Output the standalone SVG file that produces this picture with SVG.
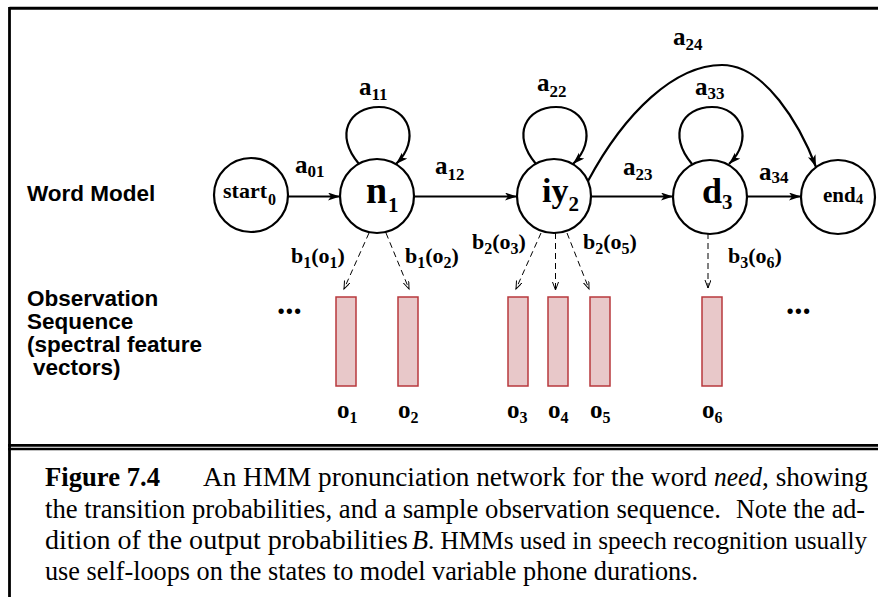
<svg xmlns="http://www.w3.org/2000/svg" width="878" height="597" viewBox="0 0 878 597">
<style>
.st{fill:#fff;stroke:#000;stroke-width:2.2}
.ed{fill:none;stroke:#000;stroke-width:2.2}
.em{fill:none;stroke:#000;stroke-width:1;stroke-dasharray:6,4}
.ob{fill:#e8c8c9;stroke:#b8383c;stroke-width:1.5}
.tb{font-family:"Liberation Serif","Times New Roman",serif;font-weight:bold;fill:#000}
.hs{font-family:"Liberation Sans",Arial,sans-serif;font-weight:bold;font-size:22.5px;fill:#000}
.cap{font-family:"Liberation Serif","Times New Roman",serif;font-size:26.3px;fill:#000}
.it{font-style:italic}
.al{font-size:25px}
.as{font-size:17px}
.bl{font-size:22px}
.bs{font-size:16px}
</style>
<defs>
<marker id="ah" markerUnits="userSpaceOnUse" markerWidth="14" markerHeight="10" refX="12" refY="4" orient="auto">
<path d="M0,0 L12,4 L0,8 L3,4 z" fill="#000"/>
</marker>
<marker id="av" markerUnits="userSpaceOnUse" markerWidth="10" markerHeight="8" refX="8" refY="3" orient="auto">
<path d="M0,0 L8,3 L0,6" fill="none" stroke="#000" stroke-width="1"/>
</marker>
</defs>

<g id="frame">
<line x1="9.5" y1="8.2" x2="878" y2="8.2" stroke="#000" stroke-width="3"/>
<line x1="9.5" y1="7" x2="9.5" y2="597" stroke="#000" stroke-width="2.8"/>
<line x1="8" y1="445.3" x2="878" y2="445.3" stroke="#000" stroke-width="2.7"/>
<line x1="8" y1="449" x2="878" y2="449" stroke="#000" stroke-width="2.3"/>
</g>

<g id="row-labels">
<text class="hs" x="27" y="201">Word Model</text>
<text class="hs" x="27" y="306">Observation</text>
<text class="hs" x="27" y="329">Sequence</text>
<text class="hs" x="27" y="352">(spectral feature</text>
<text class="hs" x="33" y="375">vectors)</text>
</g>

<g id="connectors">
<path class="ed" d="M288,196.5 L340,196.5" marker-end="url(#ah)"/>
<path class="ed" d="M414,196.5 L517,196.5" marker-end="url(#ah)"/>
<path class="ed" d="M591,196.5 L673,196.5" marker-end="url(#ah)"/>
<path class="ed" d="M747,196.5 L801,196.5" marker-end="url(#ah)"/>
<path class="ed" d="M359,164 C334,135 349,107 379,107 C409,107 421,140 396,164" marker-end="url(#ah)"/>
<path class="ed" d="M536,164 C511,135 526,107 556,107 C586,107 598,140 573,164" marker-end="url(#ah)"/>
<path class="ed" d="M692,164 C667,135 682,107 712,107 C742,107 754,140 729,164" marker-end="url(#ah)"/>
<path class="ed" d="M588,181 C625,112 675,65 722,65 C765,65 800,125 816,167" marker-end="url(#ah)"/>
<path class="em" d="M369,233 L344,289" marker-end="url(#av)"/>
<path class="em" d="M386,233 L409,289" marker-end="url(#av)"/>
<path class="em" d="M541,233 L516,289" marker-end="url(#av)"/>
<path class="em" d="M555.5,233 L555.5,290" marker-end="url(#av)"/>
<path class="em" d="M567,233 L589,289" marker-end="url(#av)"/>
<path class="em" d="M708,233 L708,288" marker-end="url(#av)"/>
</g>

<g id="start0">
<circle class="st" cx="251" cy="195" r="37"/>
<text class="tb" x="223" y="198" font-size="22">start<tspan x="268" y="205" font-size="16">0</tspan></text>
</g>
<g id="n1">
<circle class="st" cx="377" cy="196" r="37"/>
<text class="tb" x="366" y="203" font-size="38">n<tspan x="388" y="212" font-size="21">1</tspan></text>
</g>
<g id="iy2">
<circle class="st" cx="554" cy="196" r="37"/>
<text class="tb" x="542" y="202" font-size="34">iy<tspan dy="9" font-size="21">2</tspan></text>
</g>
<g id="d3">
<circle class="st" cx="710" cy="197" r="37"/>
<text class="tb" x="702" y="203" font-size="36">d<tspan dy="6" font-size="21">3</tspan></text>
</g>
<g id="end4">
<circle class="st" cx="838" cy="197" r="37"/>
<text class="tb" x="823" y="202" font-size="21">end<tspan dy="2" font-size="15">4</tspan></text>
</g>

<g id="transition-labels" class="tb">
<text class="al" x="295" y="173">a<tspan class="as" dy="4">01</tspan></text>
<text class="al" x="435" y="174">a<tspan class="as" dy="6">12</tspan></text>
<text class="al" x="359" y="95">a<tspan class="as" dy="5">11</tspan></text>
<text class="al" x="537" y="91">a<tspan class="as" dy="6">22</tspan></text>
<text class="al" x="623" y="175">a<tspan class="as" dy="5">23</tspan></text>
<text class="al" x="759" y="180">a<tspan class="as" dy="3">34</tspan></text>
<text class="al" x="695" y="95">a<tspan class="as" dy="4">33</tspan></text>
<text class="al" x="673" y="45">a<tspan class="as" dy="5">24</tspan></text>
</g>

<g id="emission-labels" class="tb">
<text class="bl" x="291" y="263">b<tspan class="bs" dy="5">1</tspan><tspan dy="-5">(o</tspan><tspan class="bs" dy="5">1</tspan><tspan dy="-5">)</tspan></text>
<text class="bl" x="405" y="263">b<tspan class="bs" dy="5">1</tspan><tspan dy="-5">(o</tspan><tspan class="bs" dy="5">2</tspan><tspan dy="-5">)</tspan></text>
<text class="bl" x="472" y="249">b<tspan class="bs" dy="5">2</tspan><tspan dy="-5">(o</tspan><tspan class="bs" dy="5">3</tspan><tspan dy="-5">)</tspan></text>
<text class="bl" x="583" y="249">b<tspan class="bs" dy="5">2</tspan><tspan dy="-5">(o</tspan><tspan class="bs" dy="5">5</tspan><tspan dy="-5">)</tspan></text>
<text class="bl" x="728" y="263">b<tspan class="bs" dy="5">3</tspan><tspan dy="-5">(o</tspan><tspan class="bs" dy="5">6</tspan><tspan dy="-5">)</tspan></text>
</g>

<g id="observations">
<rect class="ob" x="336" y="297" width="20" height="89"/>
<rect class="ob" x="398" y="297" width="20" height="89"/>
<rect class="ob" x="508" y="297" width="20" height="89"/>
<rect class="ob" x="548" y="297" width="20" height="89"/>
<rect class="ob" x="590" y="297" width="20" height="89"/>
<rect class="ob" x="702" y="297" width="20" height="89"/>
<g class="tb" font-size="25">
<text x="337" y="418">o<tspan font-size="16" dy="5">1</tspan></text>
<text x="398" y="418">o<tspan font-size="16" dy="5">2</tspan></text>
<text x="507" y="418">o<tspan font-size="16" dy="5">3</tspan></text>
<text x="548" y="418">o<tspan font-size="16" dy="5">4</tspan></text>
<text x="590" y="418">o<tspan font-size="16" dy="5">5</tspan></text>
<text x="702" y="418">o<tspan font-size="16" dy="5">6</tspan></text>
</g>
<text class="tb" x="277" y="314" font-size="33">...</text>
<text class="tb" x="786" y="314" font-size="33">...</text>
</g>

<g id="caption" class="cap">
<text x="45" y="486" font-weight="bold" textLength="115" lengthAdjust="spacingAndGlyphs">Figure 7.4</text>
<text x="203" y="486" textLength="504" lengthAdjust="spacingAndGlyphs">An HMM pronunciation network for the word</text>
<text class="it" x="714" y="486" textLength="48" lengthAdjust="spacingAndGlyphs">need</text>
<text x="762" y="486" textLength="106" lengthAdjust="spacingAndGlyphs">, showing</text>
<text x="45" y="517.5" textLength="676" lengthAdjust="spacingAndGlyphs">the transition probabilities, and a sample observation sequence.</text>
<text x="736" y="517.5" textLength="129" lengthAdjust="spacingAndGlyphs">Note the ad-</text>
<text x="45" y="549" textLength="363" lengthAdjust="spacingAndGlyphs">dition of the output probabilities</text>
<text class="it" x="412" y="549">B</text>
<text x="428" y="549" font-size="25.4" textLength="439" lengthAdjust="spacingAndGlyphs">. HMMs used in speech recognition usually</text>
<text x="45" y="580" textLength="653" lengthAdjust="spacingAndGlyphs">use self-loops on the states to model variable phone durations.</text>
</g>
</svg>
